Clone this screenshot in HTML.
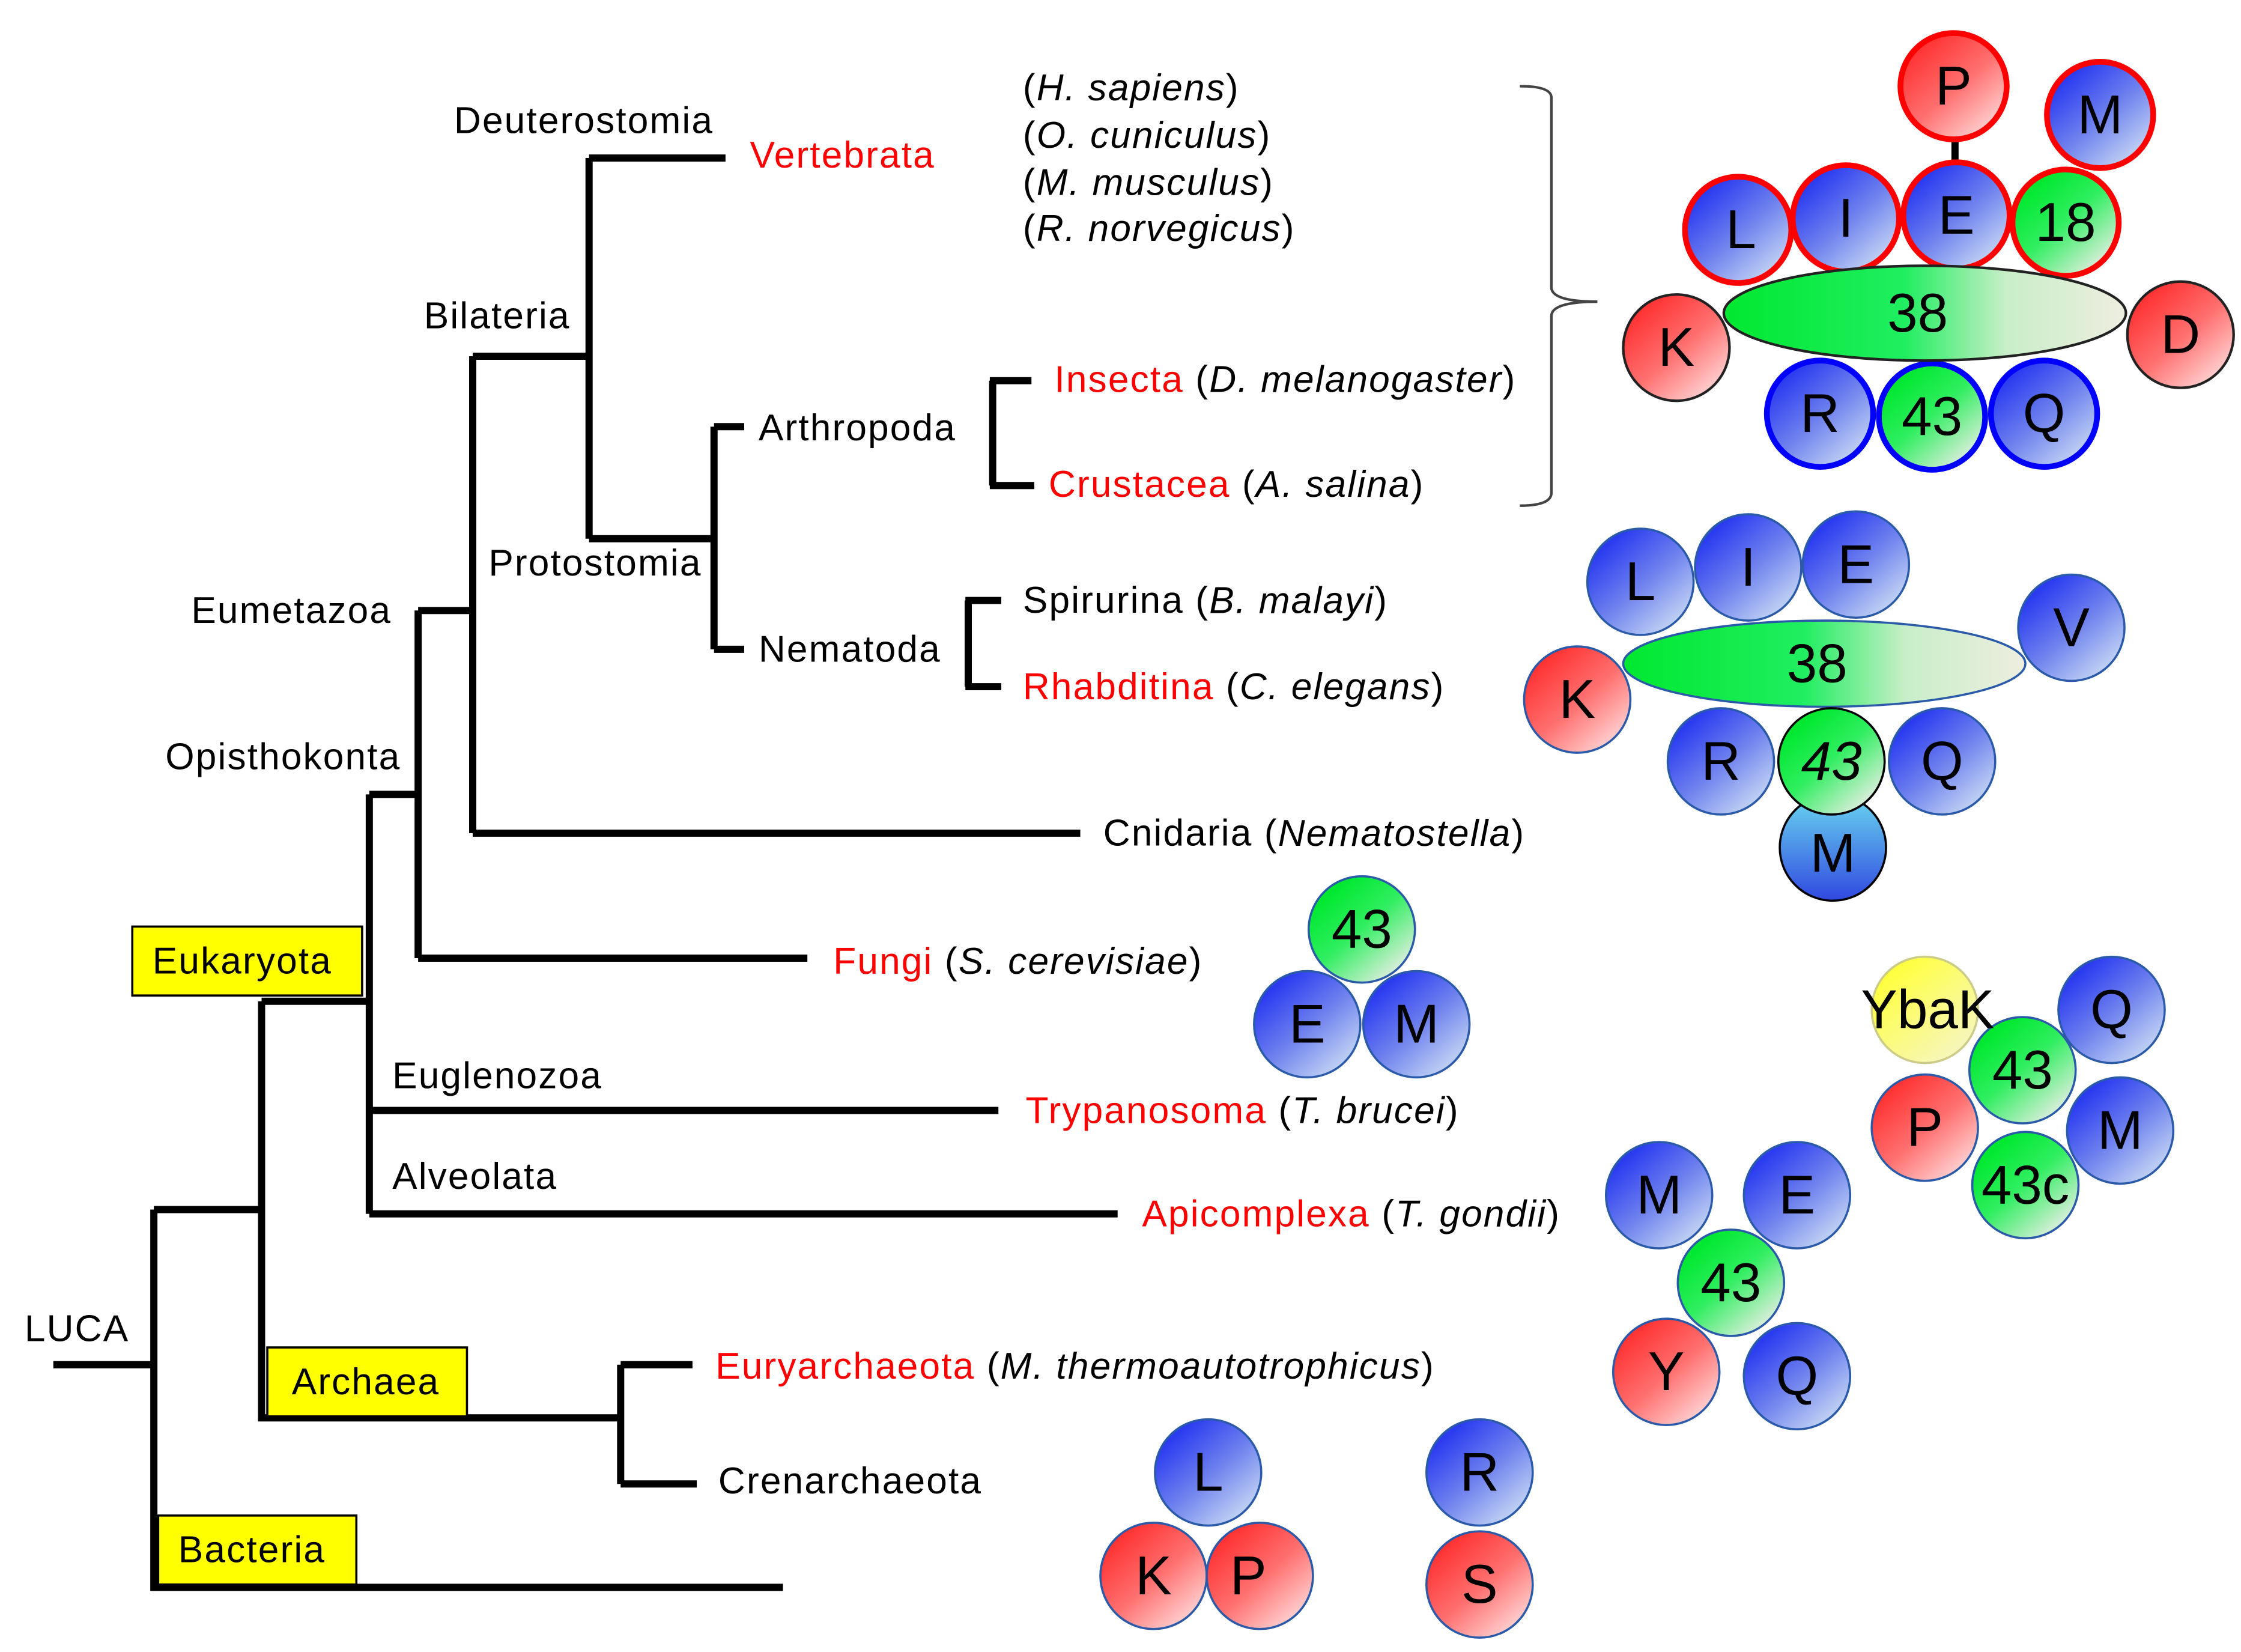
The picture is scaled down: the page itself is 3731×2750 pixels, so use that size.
<!DOCTYPE html>
<html><head><meta charset="utf-8"><style>html,body{margin:0;padding:0;background:#fff}svg{display:block}</style></head>
<body>
<svg width="3731" height="2750" viewBox="0 0 1560 1150" xmlns="http://www.w3.org/2000/svg" font-family="Liberation Sans, sans-serif">
<defs>
<linearGradient id="b" x1="0.2" y1="0.15" x2="0.85" y2="0.9"><stop offset="0" stop-color="#2b3cf0"/><stop offset="0.5" stop-color="#6f82ee"/><stop offset="1" stop-color="#c5d6f4"/></linearGradient>
<linearGradient id="r" x1="0.2" y1="0.15" x2="0.85" y2="0.9"><stop offset="0" stop-color="#ff3535"/><stop offset="0.5" stop-color="#ff7070"/><stop offset="1" stop-color="#ffd2d2"/></linearGradient>
<linearGradient id="g" x1="0.2" y1="0.15" x2="0.85" y2="0.9"><stop offset="0" stop-color="#00e830"/><stop offset="0.45" stop-color="#30ee60"/><stop offset="1" stop-color="#e2eee0"/></linearGradient>
<linearGradient id="ge" x1="0" y1="0" x2="1" y2="0"><stop offset="0" stop-color="#00e830"/><stop offset="0.45" stop-color="#20ee60"/><stop offset="0.7" stop-color="#c8eec8"/><stop offset="1" stop-color="#eeeee0"/></linearGradient>
<linearGradient id="y" x1="0.2" y1="0.15" x2="0.85" y2="0.9"><stop offset="0" stop-color="#ffff40"/><stop offset="1" stop-color="#f6f6c0"/></linearGradient>
<linearGradient id="c" x1="0.5" y1="0" x2="0.5" y2="1"><stop offset="0" stop-color="#6ad8f0"/><stop offset="1" stop-color="#3048e0"/></linearGradient>
</defs>

<g stroke="#000" stroke-width="5" fill="none" stroke-linecap="butt">
<path d="M37 950H107M107 842V1105H545M107 842H182M182 697V987H432M432 950V1033M432 950H482M432 1033H485"/>
<path d="M182 697H257M257 553V845M257 773H695M257 845H778M257 553H291M291 425V667M291 667H562M291 425H329M329 248V580M329 580H752M329 248H410M410 110V375M410 110H505M410 375H497M497 297V452M497 297H518M497 452H518"/>
<path d="M691 265V338M689 265H718M689 338H720M674 418V478M672 418H697M672 478H697"/>
</g>
<g stroke="#000" stroke-width="1.5" fill="#ffff00">
<rect x="92" y="645" width="160" height="48"/>
<rect x="186" y="938" width="139" height="48"/>
<rect x="110" y="1055" width="138" height="48"/>
</g>
<path d="M1058 60 Q1080 60 1080 68 V200 Q1080 210 1112 210 Q1080 210 1080 220 V343 Q1080 352 1058 352" stroke="#444" stroke-width="1.8" fill="none"/>

<g font-size="26" letter-spacing="0.9" dominant-baseline="central" fill="#000">
<text x="106" y="669">Eukaryota</text>
<text x="203" y="962">Archaea</text>
<text x="124" y="1079">Bacteria</text>
<text x="17" y="925">LUCA</text>
<text x="273" y="749">Euglenozoa</text>
<text x="273" y="819">Alveolata</text>
<text x="115" y="527">Opisthokonta</text>
<text x="133" y="425">Eumetazoa</text>
<text x="295" y="220">Bilateria</text>
<text x="316" y="84">Deuterostomia</text>
<text x="340" y="392">Protostomia</text>
<text x="528" y="298">Arthropoda</text>
<text x="528" y="452">Nematoda</text>
<text x="500" y="1031">Crenarchaeota</text>
<text x="768" y="580">Cnidaria (<tspan font-style="italic">Nematostella</tspan>)</text>
<text x="712" y="418">Spirurina (<tspan font-style="italic">B. malayi</tspan>)</text>
<text x="712" y="478"><tspan fill="#ff0000">Rhabditina</tspan> (<tspan font-style="italic">C. elegans</tspan>)</text>
<text x="734" y="264"><tspan fill="#ff0000">Insecta</tspan> (<tspan font-style="italic">D. melanogaster</tspan>)</text>
<text x="730" y="337"><tspan fill="#ff0000">Crustacea</tspan> (<tspan font-style="italic">A. salina</tspan>)</text>
<text x="522" y="108" fill="#ff0000">Vertebrata</text>
<text x="712" y="61">(<tspan font-style="italic">H. sapiens</tspan>)</text>
<text x="712" y="94">(<tspan font-style="italic">O. cuniculus</tspan>)</text>
<text x="712" y="127">(<tspan font-style="italic">M. musculus</tspan>)</text>
<text x="712" y="159">(<tspan font-style="italic">R. norvegicus</tspan>)</text>
<text x="580" y="669"><tspan fill="#ff0000">Fungi</tspan> (<tspan font-style="italic">S. cerevisiae</tspan>)</text>
<text x="714" y="773"><tspan fill="#ff0000">Trypanosoma</tspan> (<tspan font-style="italic">T. brucei</tspan>)</text>
<text x="795" y="845"><tspan fill="#ff0000">Apicomplexa</tspan> (<tspan font-style="italic">T. gondii</tspan>)</text>
<text x="498" y="951"><tspan fill="#ff0000">Euryarchaeota</tspan> (<tspan font-style="italic">M. thermoautotrophicus</tspan>)</text>
</g>

<line x1="1361" y1="95" x2="1361" y2="115" stroke="#000" stroke-width="5"/>
<g stroke-width="4">
<circle cx="1360" cy="60" r="37" fill="url(#r)" stroke="#f00"/>
<circle cx="1462" cy="80" r="37" fill="url(#b)" stroke="#f00"/>
<circle cx="1210" cy="160" r="37" fill="url(#b)" stroke="#f00"/>
<circle cx="1285" cy="152" r="37" fill="url(#b)" stroke="#f00"/>
<circle cx="1362" cy="150" r="37" fill="url(#b)" stroke="#f00"/>
<circle cx="1438" cy="155" r="37" fill="url(#g)" stroke="#f00"/>
<circle cx="1267" cy="288" r="37" fill="url(#b)" stroke="#00f"/>
<circle cx="1345" cy="290" r="37" fill="url(#g)" stroke="#00f"/>
<circle cx="1423" cy="288" r="37" fill="url(#b)" stroke="#00f"/>
</g>
<g stroke="#222" stroke-width="1.8">
<ellipse cx="1340" cy="218" rx="140" ry="33" fill="url(#ge)"/>
<circle cx="1167" cy="242" r="37" fill="url(#r)"/>
<circle cx="1518" cy="233" r="37" fill="url(#r)"/>
</g>
<g stroke="#2a5aa8" stroke-width="1.5">
<circle cx="1142" cy="405" r="37" fill="url(#b)"/>
<circle cx="1217" cy="395" r="37" fill="url(#b)"/>
<circle cx="1292" cy="393" r="37" fill="url(#b)"/>
<circle cx="1442" cy="437" r="37" fill="url(#b)"/>
<ellipse cx="1270" cy="462" rx="140" ry="30" fill="url(#ge)"/>
<circle cx="1098" cy="487" r="37" fill="url(#r)"/>
<circle cx="1198" cy="530" r="37" fill="url(#b)"/>
<circle cx="1352" cy="530" r="37" fill="url(#b)"/>
<circle cx="1276" cy="590" r="37" fill="url(#c)" stroke="#000"/>
<circle cx="1275" cy="530" r="37" fill="url(#g)" stroke="#000"/>
</g>
<g stroke="#2a5aa8" stroke-width="1.5">
<circle cx="948" cy="647" r="37" fill="url(#g)"/>
<circle cx="910" cy="713" r="37" fill="url(#b)"/>
<circle cx="986" cy="713" r="37" fill="url(#b)"/>
<circle cx="1340" cy="703" r="37" fill="url(#y)" stroke="#cccc88"/>
<circle cx="1470" cy="703" r="37" fill="url(#b)"/>
<circle cx="1340" cy="785" r="37" fill="url(#r)"/>
<circle cx="1476" cy="787" r="37" fill="url(#b)"/>
<circle cx="1408" cy="745" r="37" fill="url(#g)"/>
<circle cx="1410" cy="825" r="37" fill="url(#g)"/>
<circle cx="1155" cy="832" r="37" fill="url(#b)"/>
<circle cx="1251" cy="832" r="37" fill="url(#b)"/>
<circle cx="1160" cy="955" r="37" fill="url(#r)"/>
<circle cx="1251" cy="958" r="37" fill="url(#b)"/>
<circle cx="1205" cy="893" r="37" fill="url(#g)"/>
<circle cx="841" cy="1025" r="37" fill="url(#b)"/>
<circle cx="803" cy="1097" r="37" fill="url(#r)"/>
<circle cx="877" cy="1097" r="37" fill="url(#r)"/>
<circle cx="1030" cy="1025" r="37" fill="url(#b)"/>
<circle cx="1030" cy="1103" r="37" fill="url(#r)"/>
</g>
<g font-size="38" text-anchor="middle" dominant-baseline="central" fill="#000">
<text x="1360" y="60">P</text><text x="1462" y="80">M</text>
<text x="1212" y="160">L</text><text x="1285" y="152">I</text><text x="1362" y="150">E</text><text x="1438" y="155">18</text>
<text x="1335" y="218">38</text><text x="1167" y="242">K</text><text x="1518" y="233">D</text>
<text x="1267" y="288">R</text><text x="1345" y="290">43</text><text x="1423" y="288">Q</text>
<text x="1142" y="405">L</text><text x="1217" y="395">I</text><text x="1292" y="393">E</text><text x="1442" y="437">V</text>
<text x="1265" y="462">38</text><text x="1098" y="487">K</text><text x="1198" y="530">R</text>
<text x="1275" y="530" font-style="italic">43</text><text x="1352" y="530">Q</text><text x="1276" y="594">M</text>
<text x="948" y="647">43</text><text x="910" y="713">E</text><text x="986" y="713">M</text>
<text x="1342" y="703">YbaK</text><text x="1470" y="703">Q</text><text x="1408" y="745">43</text>
<text x="1340" y="785">P</text><text x="1476" y="787">M</text><text x="1410" y="825">43c</text>
<text x="1155" y="832">M</text><text x="1251" y="832">E</text><text x="1205" y="893">43</text>
<text x="1160" y="955">Y</text><text x="1251" y="958">Q</text>
<text x="841" y="1025">L</text><text x="803" y="1097">K</text><text x="869" y="1097">P</text>
<text x="1030" y="1025">R</text><text x="1030" y="1103">S</text>
</g>
</svg>
</body></html>
